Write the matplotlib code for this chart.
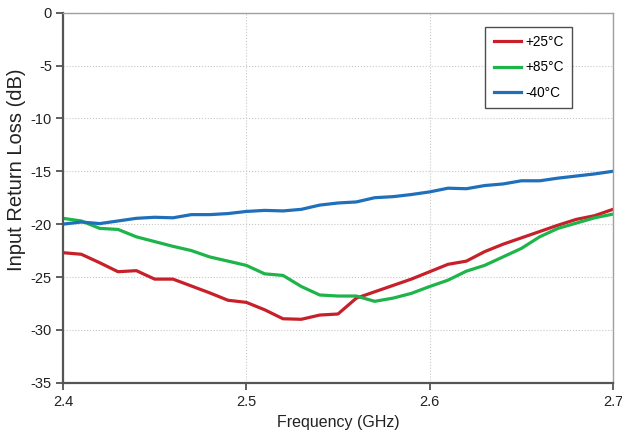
import matplotlib
matplotlib.use("Agg")
import matplotlib.pyplot as plt

plt.rcParams['font.family'] = ['Liberation Sans', 'DejaVu Sans']
plt.rcParams['axes.unicode_minus'] = False

# frequency points, GHz
freq = [2.40, 2.41, 2.42, 2.43, 2.44, 2.45, 2.46, 2.47, 2.48, 2.49, 2.50,
        2.51, 2.52, 2.53, 2.54, 2.55, 2.56, 2.57, 2.58, 2.59, 2.60,
        2.61, 2.62, 2.63, 2.64, 2.65, 2.66, 2.67, 2.68, 2.69, 2.70]

# input return loss, dB
rl_25 = [-22.7, -22.85, -23.65, -24.5, -24.4, -25.2, -25.2, -25.85, -26.5, -27.2, -27.4,
         -28.1, -28.95, -29.0, -28.6, -28.5, -27.0, -26.4, -25.8, -25.2, -24.5,
         -23.8, -23.5, -22.6, -21.9, -21.3, -20.7, -20.1, -19.55, -19.2, -18.6]
rl_85 = [-19.45, -19.7, -20.4, -20.5, -21.2, -21.65, -22.1, -22.5, -23.1, -23.5, -23.9,
         -24.7, -24.85, -25.9, -26.7, -26.8, -26.8, -27.3, -27.0, -26.55, -25.9,
         -25.3, -24.45, -23.9, -23.1, -22.3, -21.2, -20.4, -19.9, -19.4, -19.05]
rl_m40 = [-20.0, -19.8, -19.95, -19.7, -19.45, -19.35, -19.4, -19.1, -19.1, -19.0, -18.8,
          -18.7, -18.75, -18.6, -18.2, -18.0, -17.9, -17.5, -17.4, -17.2, -16.95,
          -16.6, -16.65, -16.35, -16.2, -15.9, -15.9, -15.65, -15.45, -15.25, -15.0]

labels = ['+25°C', '+85°C', '-40°C']
colors = ['#c8202a', '#1db44a', '#1f6fba']

fig = plt.figure(figsize=(6.22, 4.33), dpi=100)
ax = fig.add_axes([0.1013, 0.1161, 0.8842, 0.8546])

for series, lab, col in zip([rl_25, rl_85, rl_m40], labels, colors):
    ax.plot(freq, series, color=col, linewidth=2.3, label=lab)

ax.set_xlim(2.4, 2.7)
ax.set_ylim(-35, 0)
ax.set_xticks([2.4, 2.5, 2.6, 2.7])
ax.set_xticklabels(['2.4', '2.5', '2.6', '2.7'])
ax.set_yticks(range(-35, 1, 5))
ax.grid(True, color='#c8c8c8', linestyle=':', linewidth=0.8)
ax.tick_params(direction='out', length=5, width=1.2, color='#444444',
               labelsize=10.5, labelcolor='#222222', pad=3)
ax.tick_params(axis='x', pad=4)

for side in ['left', 'bottom']:
    ax.spines[side].set_color('#555555')
    ax.spines[side].set_linewidth(1.6)
for side in ['top', 'right']:
    ax.spines[side].set_color('#a0a0a0')
    ax.spines[side].set_linewidth(1.0)

ax.set_xlabel('Frequency (GHz)', fontsize=11.5, color='#222222', labelpad=4)
ax.set_ylabel('Input Return Loss (dB)', fontsize=14.5, color='#222222')
ax.yaxis.set_label_coords(-0.067, 0.575)

leg = ax.legend(loc='upper right', bbox_to_anchor=(0.9247, 0.9625), fontsize=9.8,
                frameon=True, fancybox=False, edgecolor='#222222',
                handlelength=2.0, handletextpad=0.3, labelspacing=0.85,
                borderpad=0.6, borderaxespad=0)
leg.get_frame().set_linewidth(1.0)

fig.savefig('out.png', dpi=100)
